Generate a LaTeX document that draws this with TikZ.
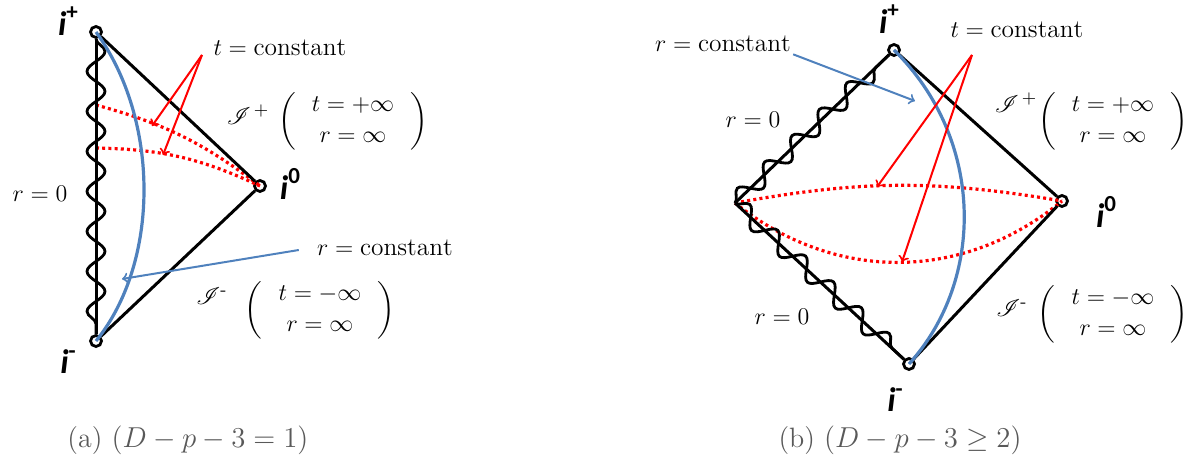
\documentclass[tikz,border=0pt]{standalone}
\usepackage{fontspec}
\usepackage{amsmath}
\usepackage{mathrsfs}
\usetikzlibrary{decorations.pathmorphing}
\newfontfamily\ilabelfont{Carlito}
\definecolor{curveblue}{RGB}{79,129,189}
\newcommand{\ilab}[1]{{\ilabelfont\bfseries\fontsize{17}{19}\selectfont\textit{i}\raisebox{0.45em}{\fontsize{11.5}{12}\selectfont #1}}}
\newcommand{\infbox}[1]{$\left(\begin{array}{@{\hspace{8pt}}c@{\hspace{8pt}}} #1 \end{array}\right)$}
\begin{document}
\begin{tikzpicture}[
x=0.5pt, y=-0.5pt,
every node/.style={font=\fontsize{12.7}{15.2}\selectfont, inner sep=1pt},
edge/.style={line width=1.5pt},
sing/.style={line width=1.4pt, decorate, decoration={snake, segment length=#1, amplitude=4.5pt}},
pt/.style={circle, draw, line width=1.4pt, inner sep=0pt, minimum size=5.5pt},
tline/.style={red, line width=1.6pt, dash pattern=on 1.5pt off 1.6pt},
tarrow/.style={red, ->, line width=1pt},
rcurve/.style={curveblue, line width=1.6pt},
rarrow/.style={curveblue, ->, line width=1pt},
caption/.style={font=\fontsize{14}{16}\selectfont, text=black!65}
]
\useasboundingbox (0,0) rectangle (1196,458);

% (a)
\node[pt] (ipA) at (96,32) {};
\node[pt] (imA) at (96,341) {};
\node[pt] (i0A) at (260,186) {};
\coordinate (tuA) at (96,105);
\coordinate (tlA) at (96,148);
\coordinate (tsA) at (202,55);
\coordinate (tuhA) at (152,126);
\coordinate (tlhA) at (163,155);
\coordinate (rhA) at (122,279);
\draw[tline] (tuA) to[bend left=11] (i0A.center);
\draw[tline] (tlA) to[bend left=12] (i0A.center);
\draw[edge] (ipA) -- (imA);
\draw[sing=20pt] (ipA) -- (imA);
\draw[edge] (ipA) -- (i0A);
\draw[edge] (imA) -- (i0A);
\draw[rcurve] (ipA.center) .. controls (160,120) and (160,262) .. (imA.center);
\draw[tarrow] (tsA) -- (tuhA);
\draw[tarrow] (tsA) -- (tlhA);
\node (tcA) at (280,48) {$t=\mathrm{constant}$};
\node (r0A) at (40,194) {$r=0$};
\node (rcA) at (385,248) {$r=\mathrm{constant}$};
\draw[rarrow] ([xshift=-8pt,yshift=-1pt]rcA.west) -- (rhA);
\node (sfA) at (248,115) {$\mathscr{I}^{\,+}$};
\node[inner sep=0pt] (mfA) at (353,121) {\infbox{t=+\infty\\ r=\infty}};
\node (spA) at (212,296) {$\mathscr{I}^{\text{-}}$};
\node[inner sep=0pt] (mpA) at (320,310) {\infbox{t=-\infty\\ r=\infty}};
\node (lpA) at (68,21) {\ilab{+}};
\node (lmA) at (68,362) {\ilab{-}};
\node (l0A) at (290,184) {\ilab{0}};
\node[caption] (capA) at (188,440) {(a) $(D-p-3=1)$};

% (b)
\node[pt] (ipB) at (894,50) {};
\node[pt] (i0B) at (1062,201) {};
\node[pt] (imB) at (909,364) {};
\coordinate (lvB) at (735,203);
\coordinate (tsB) at (972,55);
\coordinate (tuhB) at (877,187);
\coordinate (tlhB) at (902,262);
\coordinate (rhB) at (915,101);
\draw[tline] (lvB) to[bend left=10] (i0B.center);
\draw[tline] (lvB) to[bend right=39] (i0B.center);
\draw[edge] (lvB) -- (ipB);
\draw[edge] (lvB) -- (imB);
\draw[sing=19pt] (lvB) -- (ipB);
\draw[sing=19pt] (lvB) -- (imB);
\draw[edge] (ipB) -- (i0B);
\draw[edge] (imB) -- (i0B);
\draw[rcurve] (ipB.center) .. controls (985,140) and (985,280) .. (imB.center);
\draw[tarrow] (tsB) -- (tuhB);
\draw[tarrow] (tsB) -- (tlhB);
\node (rcB) at (723,44) {$r=\mathrm{constant}$};
\draw[rarrow] (rcB.south east) -- (rhB);
\node (tcB) at (1017,30) {$t=\mathrm{constant}$};
\node (r0B) at (753,120) {$r=0$};
\node (r0C) at (782,317) {$r=0$};
\node (sfB) at (1016,103) {$\mathscr{I}^{\,+}$};
\node[inner sep=0pt] (mfB) at (1113,121) {\infbox{t=+\infty\\ r=\infty}};
\node (spB) at (1012,308) {$\mathscr{I}^{\text{-}}$};
\node[inner sep=0pt] (mpB) at (1113,314) {\infbox{t=-\infty\\ r=\infty}};
\node (lpB) at (889,19) {\ilab{+}};
\node (l0B) at (1106,212) {\ilab{0}};
\node (lmB) at (895,400) {\ilab{-}};
\node[caption] (capB) at (900,440) {(b) $(D-p-3\geq2)$};
\end{tikzpicture}
\end{document}
